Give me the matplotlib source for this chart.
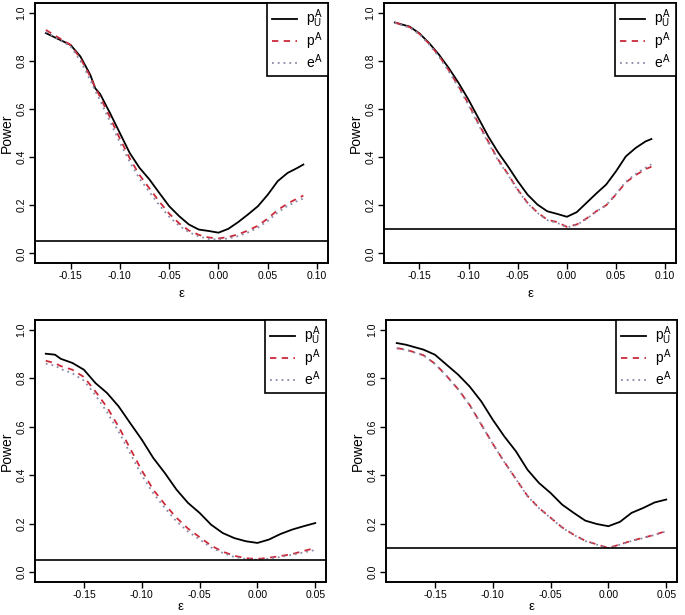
import numpy as np
import matplotlib
matplotlib.use("Agg")
import matplotlib.pyplot as plt

plt.rcParams['font.family'] = ['Liberation Sans', 'DejaVu Sans']
plt.rcParams['mathtext.fontset'] = 'custom'
plt.rcParams['mathtext.rm'] = 'Liberation Sans'
plt.rcParams['mathtext.it'] = 'Liberation Sans'

# ---------------- data ----------------
# Top-left panel
x_tl = [-0.175, -0.15, -0.14, -0.13, -0.125, -0.12, -0.11, -0.10, -0.09, -0.08, -0.07, -0.06, -0.05,
        -0.04, -0.03, -0.02, -0.01, 0.0, 0.01, 0.02, 0.03, 0.04, 0.05, 0.06, 0.07, 0.08, 0.086]
pu_tl = [0.915, 0.866, 0.818, 0.742, 0.686, 0.662, 0.583, 0.500, 0.417, 0.355, 0.307, 0.251, 0.196,
         0.155, 0.120, 0.099, 0.093, 0.086, 0.102, 0.130, 0.162, 0.196, 0.244, 0.300, 0.334, 0.355, 0.369]
p_tl = [0.928, 0.866, 0.810, 0.735, 0.690, 0.650, 0.565, 0.477, 0.395, 0.325, 0.270, 0.215, 0.165,
        0.125, 0.095, 0.077, 0.066, 0.062, 0.068, 0.079, 0.095, 0.115, 0.145, 0.180, 0.207, 0.228, 0.240]
e_tl = [0.920, 0.860, 0.800, 0.720, 0.675, 0.635, 0.548, 0.460, 0.380, 0.310, 0.255, 0.200, 0.152,
        0.115, 0.088, 0.070, 0.060, 0.057, 0.062, 0.072, 0.087, 0.107, 0.135, 0.170, 0.197, 0.218, 0.228]

# Top-right panel
x_tr = [-0.175, -0.16, -0.15, -0.14, -0.13, -0.12, -0.11, -0.10, -0.09, -0.08, -0.07, -0.06, -0.05,
        -0.04, -0.03, -0.02, -0.01, 0.0, 0.01, 0.02, 0.03, 0.04, 0.05, 0.06, 0.07, 0.08, 0.086]
pu_tr = [0.959, 0.942, 0.914, 0.873, 0.825, 0.769, 0.707, 0.638, 0.562, 0.486, 0.420, 0.362, 0.300,
         0.244, 0.203, 0.175, 0.164, 0.152, 0.171, 0.210, 0.249, 0.286, 0.341, 0.403, 0.438, 0.465, 0.475]
p_tr = [0.959, 0.940, 0.912, 0.870, 0.820, 0.760, 0.693, 0.620, 0.540, 0.465, 0.390, 0.330, 0.265,
        0.210, 0.170, 0.140, 0.130, 0.110, 0.120, 0.145, 0.175, 0.200, 0.245, 0.295, 0.325, 0.350, 0.360]
e_tr = [0.957, 0.938, 0.910, 0.867, 0.816, 0.755, 0.688, 0.615, 0.535, 0.460, 0.386, 0.327, 0.262,
        0.208, 0.168, 0.138, 0.127, 0.108, 0.118, 0.143, 0.174, 0.200, 0.247, 0.298, 0.330, 0.356, 0.370]

# Bottom-left panel
x_bl = [-0.183, -0.175, -0.17, -0.16, -0.15, -0.14, -0.13, -0.12, -0.11, -0.10, -0.09, -0.08, -0.07,
        -0.06, -0.05, -0.04, -0.03, -0.02, -0.01, 0.0, 0.01, 0.02, 0.03, 0.04, 0.05]
pu_bl = [0.901, 0.897, 0.880, 0.863, 0.835, 0.780, 0.739, 0.684, 0.615, 0.547, 0.471, 0.409, 0.341,
         0.286, 0.245, 0.196, 0.162, 0.141, 0.128, 0.121, 0.135, 0.158, 0.176, 0.190, 0.203]
p_bl = [0.872, 0.862, 0.850, 0.835, 0.805, 0.745, 0.680, 0.600, 0.510, 0.420, 0.340, 0.280, 0.225,
        0.180, 0.145, 0.110, 0.085, 0.068, 0.058, 0.055, 0.060, 0.067, 0.075, 0.088, 0.100]
e_bl = [0.860, 0.852, 0.838, 0.820, 0.790, 0.730, 0.660, 0.580, 0.490, 0.400, 0.325, 0.265, 0.210,
        0.168, 0.135, 0.102, 0.080, 0.063, 0.055, 0.052, 0.056, 0.063, 0.072, 0.082, 0.092]

# Bottom-right panel
x_br = [-0.183, -0.175, -0.16, -0.15, -0.14, -0.13, -0.12, -0.11, -0.10, -0.09, -0.08, -0.07, -0.06,
        -0.05, -0.04, -0.03, -0.02, -0.01, 0.0, 0.01, 0.02, 0.03, 0.04, 0.05]
pu_br = [0.945, 0.938, 0.918, 0.897, 0.856, 0.815, 0.766, 0.705, 0.629, 0.560, 0.499, 0.423, 0.368,
         0.327, 0.279, 0.245, 0.213, 0.199, 0.190, 0.208, 0.245, 0.265, 0.288, 0.300]
p_br = [0.924, 0.918, 0.895, 0.860, 0.810, 0.755, 0.690, 0.610, 0.530, 0.455, 0.385, 0.315, 0.265,
        0.225, 0.185, 0.155, 0.130, 0.115, 0.100, 0.115, 0.130, 0.142, 0.155, 0.170]
e_br = [0.923, 0.917, 0.894, 0.859, 0.809, 0.754, 0.689, 0.609, 0.529, 0.454, 0.384, 0.314, 0.264,
        0.224, 0.184, 0.154, 0.129, 0.114, 0.100, 0.114, 0.129, 0.141, 0.154, 0.169]

levels = [0.05, 0.10, 0.05, 0.10]
xticks_top = [-0.15, -0.10, -0.05, 0.00, 0.05, 0.10]
xticks_bot = [-0.15, -0.10, -0.05, 0.00, 0.05]
yticks = [0.0, 0.2, 0.4, 0.6, 0.8, 1.0]
labels = [r'$p_U^A$', r'$p^A$', r'$e^A$']

panels = [
    (x_tl, pu_tl, p_tl, e_tl, levels[0], xticks_top, (-0.186, 0.111), [35, 3, 293, 260], 5),
    (x_tr, pu_tr, p_tr, e_tr, levels[1], xticks_top, (-0.186, 0.111), [384, 3, 292, 260], 5),
    (x_bl, pu_bl, p_bl, e_bl, levels[2], xticks_bot, (-0.1923, 0.0593), [35, 320, 291, 262], 0.5),
    (x_br, pu_br, p_br, e_br, levels[3], xticks_bot, (-0.1923, 0.0593), [386, 320, 291, 262], 0.5),
]

W, H = 685, 615
fig = plt.figure(figsize=(W / 100, H / 100), dpi=100)

for x, pu, p, e, lev, xt, xl, (l, t, w, h), xpad in panels:
    ax = fig.add_axes([l / W, 1 - (t + h) / H, w / W, h / H])
    ax.plot(x, pu, color='black', lw=1.3, label=labels[0])
    ax.plot(x, p, color='#cc2a3a', lw=1.3, ls=(0, (3.5, 3.0)), label=labels[1])
    ax.plot(x, e, color='#8a8aa8', lw=1.3, ls=(0, (1, 2.2)), label=labels[2])
    ax.axhline(lev, color='black', lw=1.2)
    ax.set_xlim(*xl)
    ax.set_ylim(-0.04, 1.04)
    ax.set_xticks(xt)
    ax.set_xticklabels(['%.2f' % v for v in xt], fontsize=7.5)
    ax.set_yticks(yticks)
    ax.set_yticklabels(['%.1f' % v for v in yticks], fontsize=7.5, rotation=90, va='center')
    ax.tick_params(direction='out', length=4, width=1, pad=2)
    for s in ax.spines.values():
        s.set_linewidth(1.4)
    ax.set_ylabel('Power', fontsize=10, labelpad=2)
    ax.set_xlabel('ε', fontsize=9.5, labelpad=xpad)
    leg = ax.legend(loc='upper right', borderaxespad=0, fancybox=False, framealpha=1,
                    edgecolor='black', fontsize=10, handlelength=1.8, handletextpad=0.7,
                    labelspacing=0.0, borderpad=0.35)
    leg.get_frame().set_linewidth(1.2)

fig.savefig('out.png', dpi=100)
